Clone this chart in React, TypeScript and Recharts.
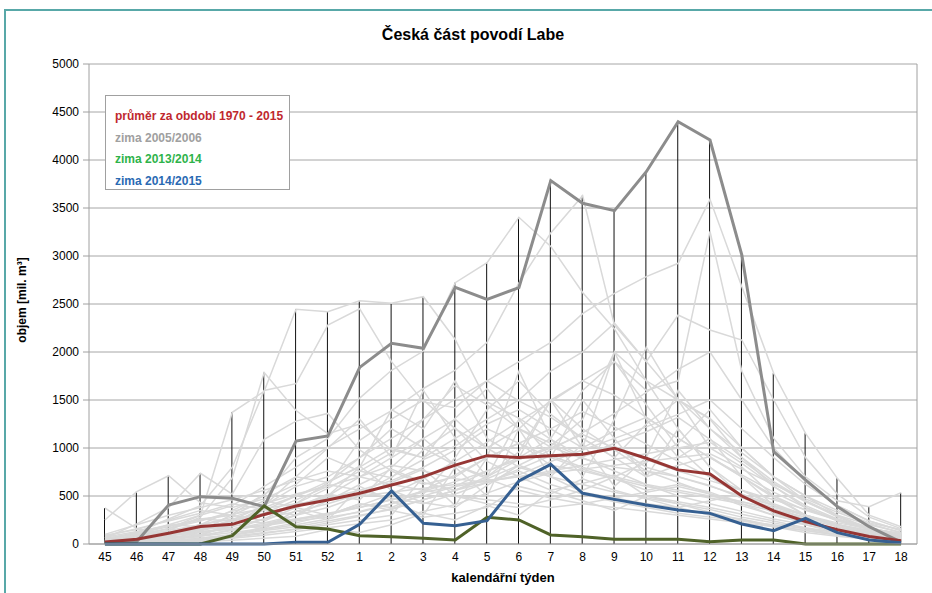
import React from 'react';
import { ComposedChart, Line, Bar, XAxis, YAxis, CartesianGrid } from 'recharts';

// calendar weeks of the winter season
const weeks = ['45', '46', '47', '48', '49', '50', '51', '52', '1', '2', '3', '4', '5', '6', '7', '8', '9', '10', '11', '12', '13', '14', '15', '16', '17', '18'];

// highlighted series
const mean7015 = [20, 50, 112, 182, 205, 308, 396, 458, 528, 615, 702, 822, 920, 900, 920, 935, 998, 893, 772, 730, 500, 345, 235, 148, 78, 35];
const winter0506 = [10, 25, 406, 493, 476, 389, 1073, 1125, 1840, 2090, 2038, 2674, 2549, 2670, 3785, 3549, 3472, 3878, 4399, 4208, 3010, 962, 667, 389, 180, 20];
const winter1314 = [0, 0, 0, 0, 87, 396, 180, 156, 87, 76, 59, 42, 278, 250, 94, 76, 49, 49, 49, 24, 42, 42, 0, 0, 0, 0];
const winter1415 = [0, 0, 0, 0, 0, 0, 18, 18, 205, 552, 215, 191, 243, 656, 830, 528, 465, 406, 354, 319, 208, 139, 267, 118, 42, 14];

// weekly maximum over 1970-2015 (black vertical lines)
const weeklyMax = [375, 545, 711, 736, 1372, 1785, 2445, 2420, 2534, 2507, 2576, 2722, 2930, 3403, 3792, 3628, 3479, 3878, 4399, 4208, 3010, 1778, 1153, 684, 389, 535];

// other winters 1970-2015 (light grey)
const otherWinters = [
  [375, 160, 90, 130, 310, 520, 700, 640, 810, 560, 430, 380, 610, 820, 700, 540, 480, 420, 380, 300, 260, 190, 140, 90, 60, 40],
  [250, 545, 711, 430, 380, 470, 620, 900, 760, 690, 980, 1210, 860, 700, 560, 630, 720, 500, 440, 380, 310, 240, 170, 120, 80, 60],
  [60, 210, 380, 736, 520, 1090, 1280, 1360, 980, 760, 620, 700, 900, 1050, 820, 760, 680, 560, 620, 540, 420, 300, 220, 160, 110, 80],
  [30, 80, 160, 300, 1372, 1590, 2445, 2420, 2534, 2507, 2576, 2130, 1480, 1310, 1090, 910, 1020, 800, 700, 610, 480, 380, 300, 200, 130, 90],
  [20, 60, 140, 280, 690, 1785, 1390, 1150, 1250, 980, 900, 1310, 1620, 1200, 1010, 890, 800, 760, 700, 600, 500, 400, 300, 200, 140, 100],
  [40, 120, 260, 400, 800, 1600, 1670, 2280, 2450, 1900, 1480, 1420, 1700, 1490, 1320, 1100, 900, 700, 820, 910, 700, 500, 350, 250, 160, 110],
  [10, 40, 100, 200, 350, 500, 900, 1100, 1520, 1810, 2010, 2722, 2930, 3403, 3100, 2620, 2240, 1700, 1500, 1310, 1000, 700, 500, 350, 220, 150],
  [30, 90, 200, 300, 400, 600, 800, 1010, 1200, 1390, 1620, 1810, 2100, 2720, 3240, 3628, 2280, 1900, 1510, 1200, 900, 650, 450, 300, 200, 120],
  [20, 50, 100, 150, 250, 400, 600, 700, 900, 1100, 1300, 1510, 1700, 1900, 2100, 2400, 2610, 2785, 2924, 3590, 2680, 1778, 1153, 684, 300, 180],
  [10, 30, 80, 150, 200, 300, 400, 500, 700, 900, 1100, 1300, 1000, 1200, 1500, 1700, 1900, 1600, 1700, 3256, 1800, 1100, 700, 450, 389, 535],
  [15, 40, 90, 160, 240, 350, 500, 650, 800, 1000, 900, 1100, 1300, 1500, 1800, 2000, 2300, 1900, 2385, 2229, 2125, 1500, 900, 520, 280, 160],
  [0, 20, 60, 120, 180, 260, 340, 420, 520, 700, 880, 1020, 1250, 1400, 1200, 1000, 1180, 1320, 1100, 900, 700, 480, 300, 180, 110, 70],
  [40, 90, 160, 260, 300, 240, 380, 520, 460, 800, 1100, 820, 700, 960, 1500, 1200, 980, 760, 640, 520, 400, 300, 220, 150, 90, 60],
  [10, 30, 70, 90, 140, 200, 260, 300, 420, 380, 520, 900, 1400, 1700, 1350, 1100, 900, 1250, 1500, 1300, 900, 600, 380, 240, 150, 90],
  [80, 160, 240, 320, 420, 360, 300, 450, 620, 780, 640, 560, 700, 880, 1020, 1300, 2000, 1700, 1200, 800, 560, 400, 300, 200, 120, 80],
  [20, 50, 120, 200, 260, 320, 460, 600, 1080, 1300, 1500, 1200, 1000, 800, 700, 620, 540, 480, 420, 360, 280, 220, 160, 100, 70, 50],
  [0, 10, 30, 60, 100, 150, 200, 260, 340, 420, 500, 600, 760, 900, 1100, 1600, 1900, 1450, 1000, 700, 500, 320, 220, 140, 90, 60],
  [50, 120, 200, 180, 150, 220, 300, 380, 500, 640, 780, 500, 420, 380, 460, 560, 700, 850, 1050, 1400, 1000, 700, 450, 280, 160, 100],
  [30, 70, 100, 140, 200, 300, 420, 580, 760, 950, 1300, 1650, 1450, 1200, 1050, 900, 760, 620, 500, 420, 340, 260, 200, 140, 90, 60],
  [15, 40, 80, 130, 160, 190, 240, 280, 330, 420, 560, 720, 900, 1050, 1200, 1380, 1220, 1040, 860, 700, 560, 420, 300, 200, 130, 80],
  [60, 100, 160, 240, 340, 420, 520, 600, 700, 820, 760, 680, 640, 720, 860, 980, 1100, 1220, 1350, 1500, 1200, 900, 620, 400, 240, 140],
  [5, 15, 30, 60, 90, 140, 180, 240, 300, 360, 460, 560, 640, 760, 620, 520, 440, 380, 320, 280, 240, 200, 160, 120, 80, 50],
  [100, 200, 300, 380, 460, 560, 660, 760, 700, 620, 560, 500, 460, 420, 380, 420, 480, 540, 600, 520, 440, 360, 280, 200, 140, 90],
  [20, 40, 60, 80, 120, 160, 220, 300, 400, 520, 680, 860, 1060, 1280, 1480, 1700, 1550, 1320, 1100, 900, 720, 540, 380, 250, 150, 90],
  [10, 20, 40, 80, 150, 260, 420, 640, 900, 1200, 1000, 820, 680, 560, 480, 420, 380, 340, 300, 260, 220, 180, 140, 100, 70, 50],
  [0, 10, 20, 40, 60, 90, 130, 170, 210, 250, 340, 410, 530, 650, 740, 910, 1050, 1170, 1320, 1090, 870, 630, 440, 290, 170, 100],
  [40, 80, 140, 200, 280, 380, 500, 620, 560, 480, 420, 520, 640, 780, 920, 800, 700, 620, 560, 500, 440, 360, 280, 200, 130, 80],
  [60, 110, 180, 260, 240, 220, 260, 320, 380, 460, 540, 600, 660, 700, 760, 820, 880, 940, 1000, 1060, 840, 600, 400, 260, 160, 100],
  [25, 60, 110, 170, 240, 320, 400, 480, 560, 660, 800, 980, 1200, 1050, 900, 780, 680, 600, 540, 480, 420, 340, 260, 180, 120, 70],
  [5, 10, 20, 40, 70, 110, 160, 220, 290, 370, 460, 560, 680, 820, 980, 1160, 1360, 1580, 1820, 2000, 1500, 1000, 650, 400, 240, 140],
  [30, 60, 90, 120, 160, 200, 250, 310, 380, 460, 550, 650, 760, 880, 1000, 1140, 1000, 880, 760, 660, 560, 460, 360, 260, 170, 100],
  [70, 130, 190, 250, 310, 370, 420, 460, 500, 540, 580, 620, 660, 700, 740, 780, 820, 860, 900, 940, 780, 620, 470, 330, 210, 120],
  [0, 30, 50, 100, 200, 400, 700, 1000, 1300, 900, 1600, 1100, 700, 1300, 900, 1500, 1100, 700, 1200, 800, 500, 350, 200, 120, 60, 30],
  [20, 40, 80, 60, 90, 180, 300, 500, 800, 1400, 1200, 1700, 1100, 900, 1500, 1000, 2000, 1300, 900, 1100, 700, 400, 250, 150, 90, 50],
  [10, 20, 30, 50, 80, 120, 150, 200, 250, 300, 700, 400, 900, 1800, 1100, 700, 1300, 2050, 1500, 1000, 800, 500, 300, 180, 100, 60],
  [35, 70, 120, 90, 200, 160, 350, 250, 600, 450, 300, 800, 500, 1200, 700, 1050, 600, 900, 1600, 1200, 950, 700, 500, 300, 150, 70],
  [0, 5, 15, 25, 40, 60, 80, 150, 120, 200, 320, 250, 400, 300, 550, 450, 350, 500, 420, 330, 250, 180, 120, 80, 50, 30],
  [90, 150, 250, 350, 300, 450, 380, 300, 420, 350, 280, 320, 380, 600, 520, 680, 560, 470, 380, 450, 520, 400, 300, 220, 160, 110],
];

const yTicks = [0, 500, 1000, 1500, 2000, 2500, 3000, 3500, 4000, 4500, 5000];

const data = weeks.map((w, i) => {
  const row: any = {
    week: w,
    max: weeklyMax[i],
    mean: mean7015[i],
    w0506: winter0506[i],
    w1314: winter1314[i],
    w1415: winter1415[i],
  };
  otherWinters.forEach((s, k) => { row['bg' + k] = s[i]; });
  return row;
});

const legendItems = [
  { label: 'průměr za období 1970 - 2015', color: '#c0282e' },
  { label: 'zima 2005/2006', color: '#a0a0a0' },
  { label: 'zima 2013/2014', color: '#2eb34a' },
  { label: 'zima 2014/2015', color: '#2a6ab3' },
];

const font = '"Liberation Sans", Arial, sans-serif';
const frame = '#58a8a8';

export default function App() {
  return (
    <div style={{ position: 'absolute', left: 0, top: 0, width: 932, height: 593, overflow: 'hidden', background: '#fff', fontFamily: font }}>
      <div style={{ position: 'absolute', zIndex: 3, left: 4, top: 9, width: 940, height: 2, background: frame }} />
      <div style={{ position: 'absolute', zIndex: 3, left: 4, top: 9, width: 2, height: 600, background: frame }} />
      <div style={{ position: 'absolute', left: 0, width: 946, top: 26, textAlign: 'center', fontWeight: 'bold', fontSize: 16 }}>
        Česká část povodí Labe
      </div>
      <ComposedChart width={932} height={593} data={data} margin={{ top: 64, right: 14, bottom: 19, left: 0 }}>
        <CartesianGrid vertical={false} stroke="#a6a6a6" />
        <XAxis dataKey="week" interval={0} tickLine={false} tickSize={6} tickMargin={2} height={30}
          axisLine={{ stroke: '#a0a0a0' }} tick={{ fill: '#000', fontSize: 12, fontFamily: font }} />
        <YAxis width={89} domain={[0, 5000]} ticks={yTicks} interval={0} tickSize={6} tickMargin={4}
          axisLine={{ stroke: '#a0a0a0' }} tickLine={{ stroke: '#a0a0a0' }} tick={{ fill: '#000', fontSize: 12, fontFamily: font }} />
        <YAxis yAxisId="right" orientation="right" width={1} domain={[0, 5000]} tick={false} tickLine={false}
          axisLine={{ stroke: '#a0a0a0' }} />
        {otherWinters.map((_, k) => (
          <Line key={k} type="linear" dataKey={'bg' + k} stroke="#d9d9d9" strokeWidth={1.5} dot={false} isAnimationActive={false} />
        ))}
        <Bar dataKey="max" barSize={1} fill="#111" isAnimationActive={false} />
        <Line type="linear" dataKey="w0506" stroke="#8c8c8c" strokeWidth={3} dot={false} isAnimationActive={false} />
        <Line type="linear" dataKey="mean" stroke="#963634" strokeWidth={3} dot={false} isAnimationActive={false} />
        <Line type="linear" dataKey="w1314" stroke="#4f6228" strokeWidth={3} dot={false} isAnimationActive={false} />
        <Line type="linear" dataKey="w1415" stroke="#366092" strokeWidth={3} dot={false} isAnimationActive={false} />
      </ComposedChart>
      <div style={{ position: 'absolute', left: 105, top: 95, width: 185, height: 95, boxSizing: 'border-box', border: '1px solid #a0a0a0', background: '#fff', padding: '10px 0 0 9px' }}>
        {legendItems.map((it) => (
          <div key={it.label} style={{ color: it.color, fontWeight: 'bold', fontSize: 12, lineHeight: '21.5px' }}>{it.label}</div>
        ))}
      </div>
      <div style={{ position: 'absolute', left: 22, top: 300, transform: 'translate(-50%, -50%) rotate(-90deg)', whiteSpace: 'nowrap', fontWeight: 'bold', fontSize: 12 }}>
        objem [mil. m³]
      </div>
      <div style={{ position: 'absolute', left: 89, width: 828, top: 570, textAlign: 'center', fontWeight: 'bold', fontSize: 13 }}>
        kalendářní týden
      </div>
    </div>
  );
}
